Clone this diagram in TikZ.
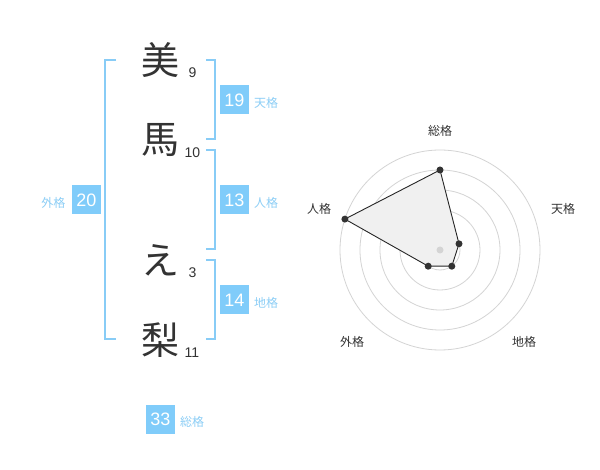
\documentclass[tikz,border=0pt]{standalone}
\usepackage{fontspec}
\setmainfont{Liberation Sans}
\newfontfamily\jp{Noto Sans CJK JP}
\definecolor{boxblue}{RGB}{128,204,250}
\definecolor{lblblue}{RGB}{140,206,246}
\definecolor{brblue}{RGB}{136,204,246}
\definecolor{ink}{RGB}{51,51,51}
\definecolor{ringgray}{RGB}{212,212,212}
\definecolor{polyfill}{RGB}{240,240,240}
\begin{document}
\begin{tikzpicture}[x=1pt,y=-1pt,
  kanji/.style={inner sep=0pt,text=ink,font=\jp\fontsize{38}{38}\selectfont},
  strokes/.style={inner sep=0pt,text=ink,font=\fontsize{14}{14}\selectfont},
  numbox/.style={fill=boxblue,text=white,inner sep=0pt,minimum size=29pt,font=\fontsize{18}{18}\selectfont},
  kakulbl/.style={inner sep=0pt,text=lblblue,font=\jp\fontsize{12}{12}\selectfont},
  bracket/.style={draw=brblue,line width=2pt},
  ring/.style={draw=ringgray,line width=0.8pt},
  radarlbl/.style={inner sep=0pt,text=ink,font=\jp\fontsize{12}{12}\selectfont},
  dot/.style={circle,fill=ink,inner sep=0pt,minimum size=7pt},
  poly/.style={draw=black!85,line width=0.9pt,fill=polyfill}]
\useasboundingbox (0,0) rectangle (600,470);
\fill[white] (0,0) rectangle (600,470);
% brackets
\draw[bracket] (116,60) -- (105,60) -- (105,339.5) -- (116,339.5);
\draw[bracket] (206,60) -- (215,60) -- (215,139.5) -- (206,139.5);
\draw[bracket] (206,150) -- (215,150) -- (215,249.5) -- (206,249.5);
\draw[bracket] (206,260) -- (215,260) -- (215,339.5) -- (206,339.5);
% name characters
\node[kanji] (k1) at (160,60) {美};
\node[kanji] (k2) at (160,140) {馬};
\node[kanji] (k3) at (160,260) {え};
\node[kanji] (k4) at (160,340) {梨};
\node[strokes] (s1) at (192.5,73) {9};
\node[strokes] (s2) at (192.5,152.7) {10};
\node[strokes] (s3) at (192.5,273) {3};
\node[strokes] (s4) at (192,352.5) {11};
% boxes
\node[numbox] (ten) at (234.5,100) {19};
\node[kakulbl,anchor=west] (tenl) at (254,103) {天格};
\node[numbox] (jin) at (234.5,200) {13};
\node[kakulbl,anchor=west] (jinl) at (254,203) {人格};
\node[numbox] (chi) at (234.5,300) {14};
\node[kakulbl,anchor=west] (chil) at (254,303) {地格};
\node[numbox] (gai) at (86.5,200) {20};
\node[kakulbl,anchor=east] (gail) at (65.5,203) {外格};
\node[numbox] (sou) at (160.5,419) {33};
\node[kakulbl,anchor=west] (soul) at (180,422) {総格};
% radar
\coordinate (c) at (440,250);
\foreach \r in {20,40,60,80,100} \draw[ring] (c) circle[radius=\r pt];
\node[radarlbl] (rS) at (440,131) {総格};
\node[radarlbl] (rT) at (563,209) {天格};
\node[radarlbl] (rC) at (524,342) {地格};
\node[radarlbl] (rG) at (352,342) {外格};
\node[radarlbl] (rJ) at (319,209) {人格};
\coordinate (pS) at (440,170);
\coordinate (pT) at (459,243.8);
\coordinate (pC) at (451.8,266.2);
\coordinate (pG) at (428.2,266.2);
\coordinate (pJ) at (344.9,219.1);
\filldraw[poly] (pS) -- (pT) -- (pC) -- (pG) -- (pJ) -- cycle;
\node[dot] (dS) at (pS) {};
\node[dot] (dT) at (pT) {};
\node[dot] (dC) at (pC) {};
\node[dot] (dG) at (pG) {};
\node[dot] (dJ) at (pJ) {};
\node[circle,fill=ringgray,inner sep=0pt,minimum size=7pt] (cd) at (c) {};
\end{tikzpicture}
\end{document}
